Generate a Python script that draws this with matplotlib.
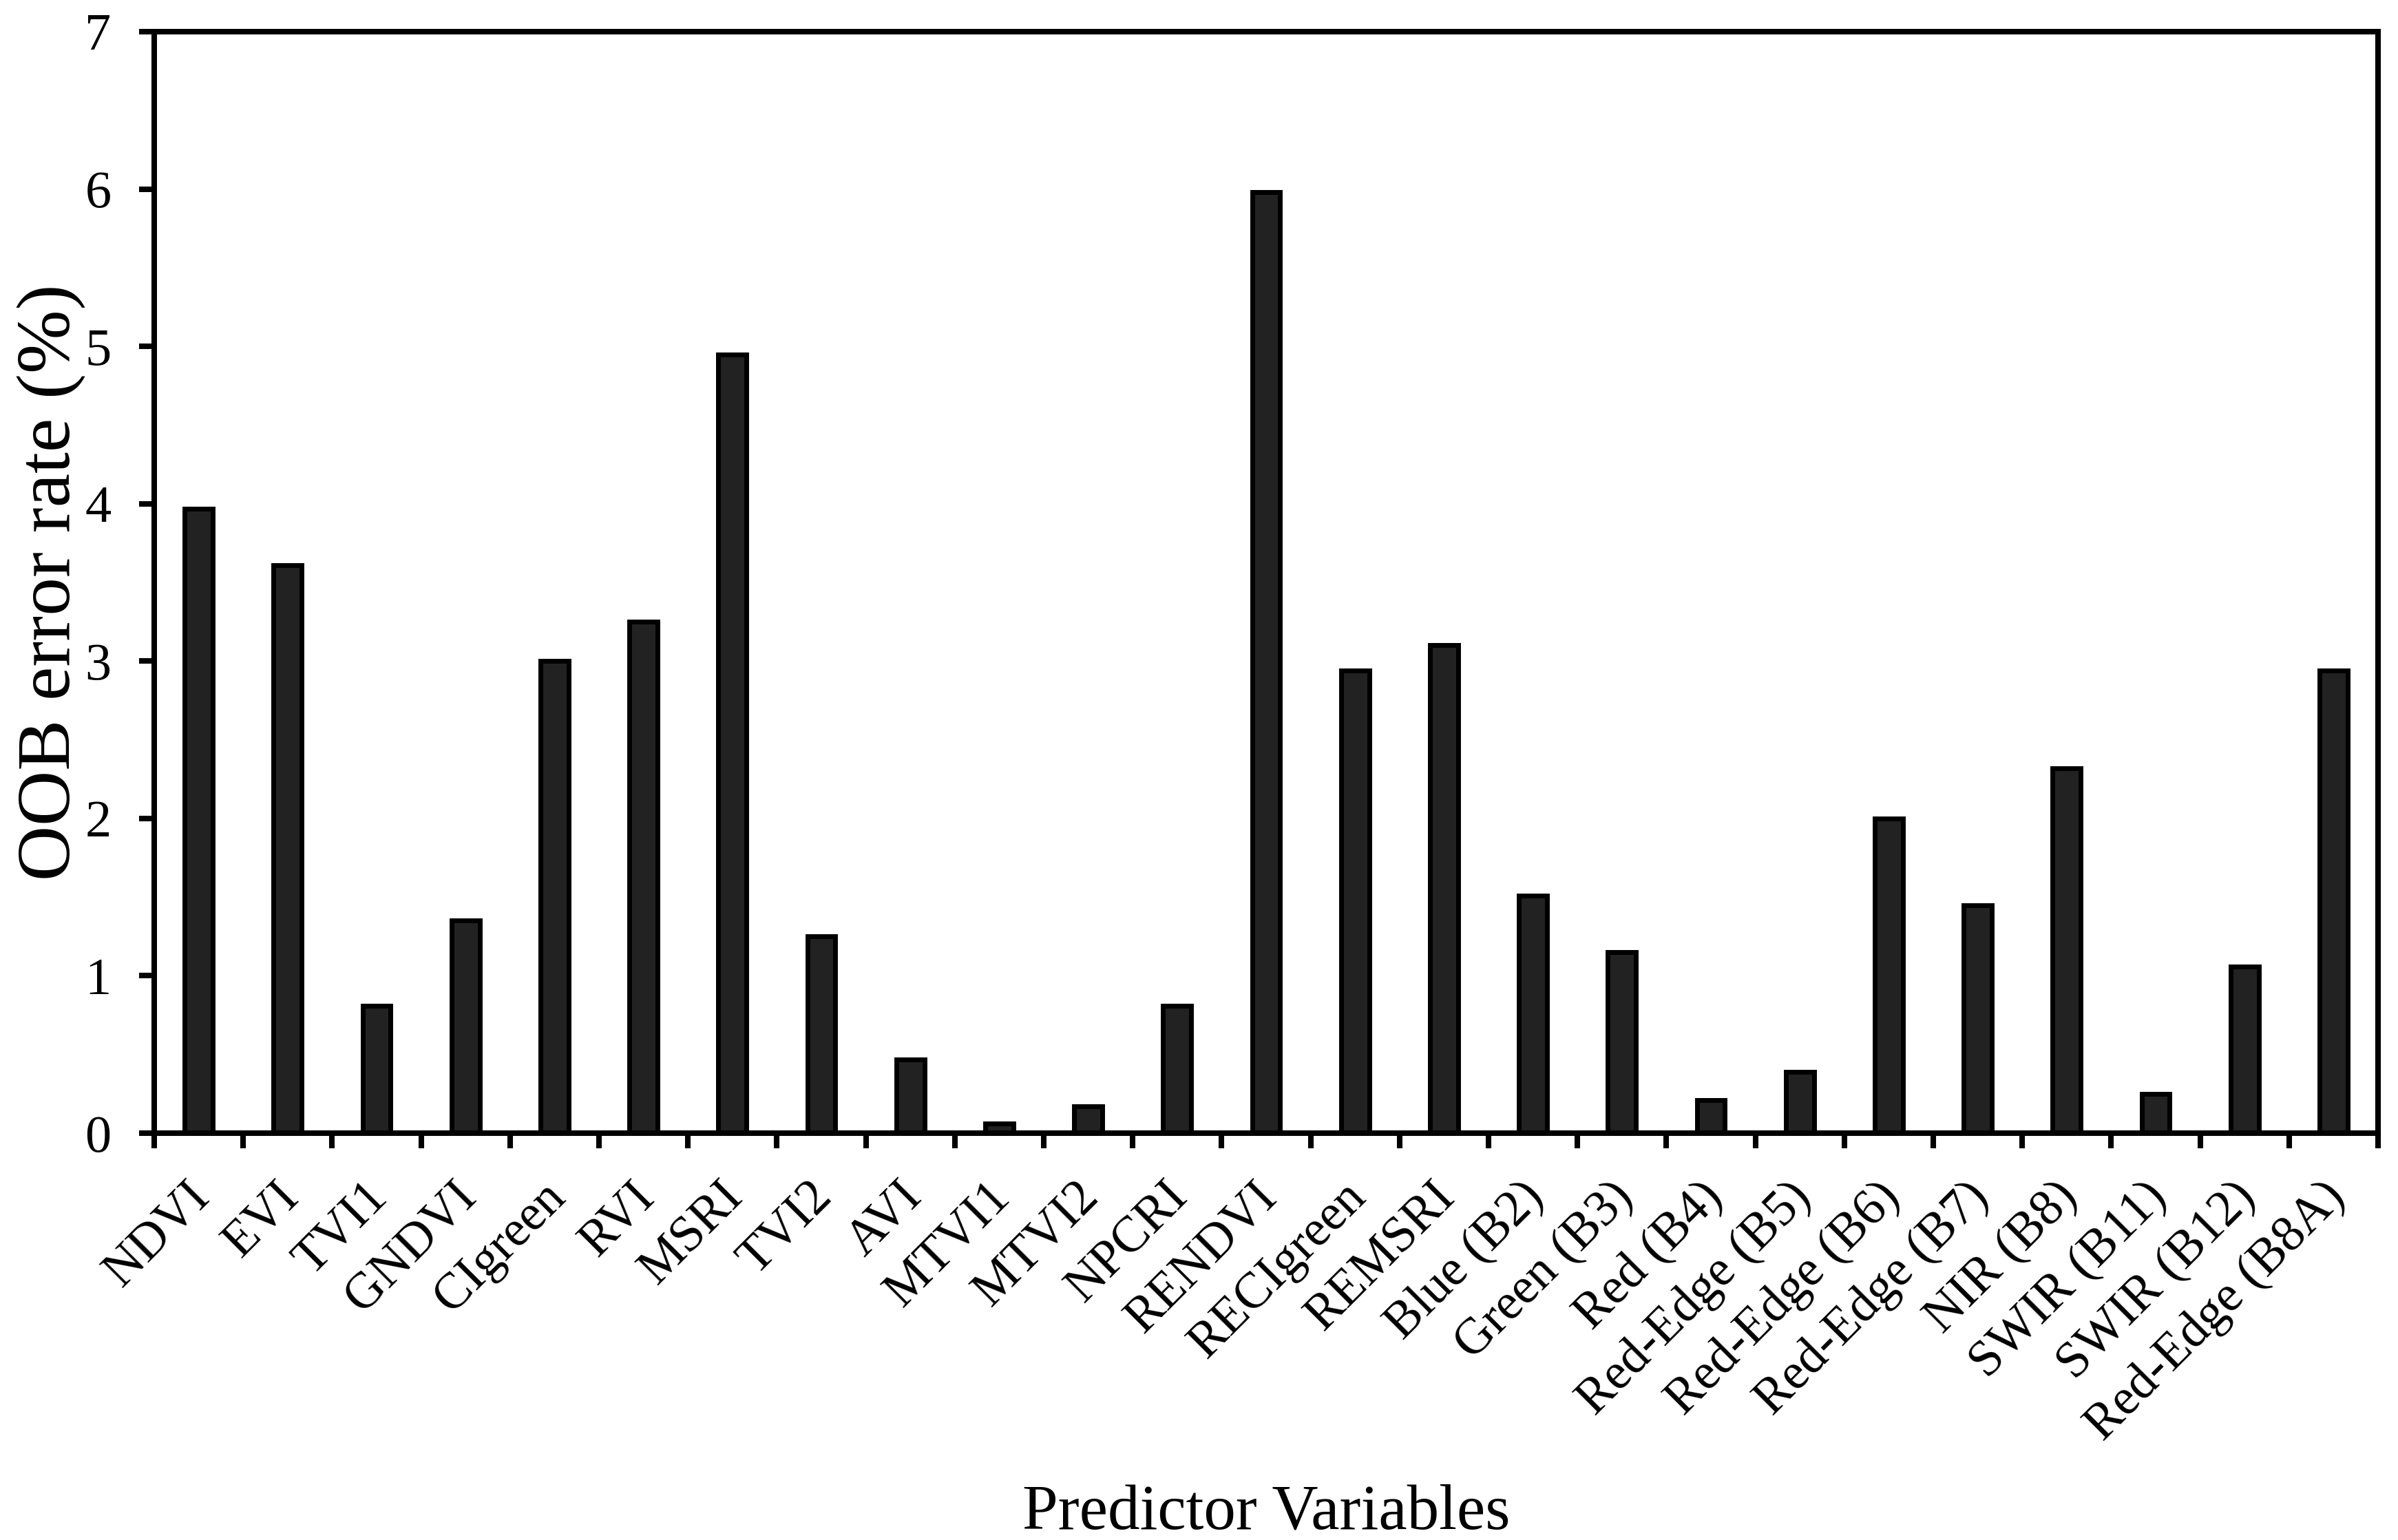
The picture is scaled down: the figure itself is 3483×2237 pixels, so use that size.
import numpy as np
import matplotlib
matplotlib.use("Agg")
import matplotlib.pyplot as plt

# predictor variables and their OOB error rates (%)
names = ["NDVI", "EVI", "TVI1", "GNDVI", "CIgreen", "RVI", "MSRI", "TVI2", "AVI",
         "MTVI1", "MTVI2", "NPCRI", "RENDVI", "RECIgreen", "REMSRI", "Blue (B2)",
         "Green (B3)", "Red (B4)", "Red-Edge (B5)", "Red-Edge (B6)", "Red-Edge (B7)",
         "NIR (B8)", "SWIR (B11)", "SWIR (B12)", "Red-Edge (B8A)"]
oob = [3.97, 3.61, 0.81, 1.35, 3.00, 3.25, 4.95, 1.25, 0.47,
       0.06, 0.17, 0.81, 5.98, 2.94, 3.10, 1.51,
       1.15, 0.21, 0.39, 2.00, 1.45, 2.32, 0.25, 1.06, 2.94]
yticks = [0, 1, 2, 3, 4, 5, 6, 7]

plt.rcParams['font.family'] = ['Liberation Serif', 'DejaVu Serif']

fig = plt.figure(figsize=(34.83, 22.37), dpi=100)
ax = fig.add_axes([0.06431, 0.26419, 0.92736, 0.71525])

x = np.arange(len(names))
ax.bar(x, oob, width=0.317, color='#222222', edgecolor='black', linewidth=5)

ax.set_xlim(-0.5, len(names) - 0.5)
ax.set_ylim(0, 7)
ax.set_yticks(yticks)
ax.tick_params(axis='y', direction='out', length=16, width=5.8, labelsize=55, pad=29)

# major ticks at category boundaries, labels on minor ticks
ax.set_xticks(np.arange(len(names) + 1) - 0.5)
ax.set_xticklabels([])
ax.tick_params(axis='x', which='major', direction='out', length=16, width=5.8)
ax.set_xticks(x - 0.14, minor=True)
ax.set_xticklabels(names, minor=True, rotation=45, ha='right', va='top',
                   rotation_mode='anchor', fontsize=53)
ax.tick_params(axis='x', which='minor', length=0, pad=42)

for s in ax.spines.values():
    s.set_linewidth(5.8)

ax.set_ylabel("OOB error rate (%)", fontsize=80, ha='center', va='center')
ax.yaxis.set_label_coords(-0.046, 0.50)
ax.set_xlabel("Predictor Variables", fontsize=67, va='baseline')
ax.xaxis.set_label_coords(0.5, -0.359)

fig.savefig("out.png", dpi=100)
